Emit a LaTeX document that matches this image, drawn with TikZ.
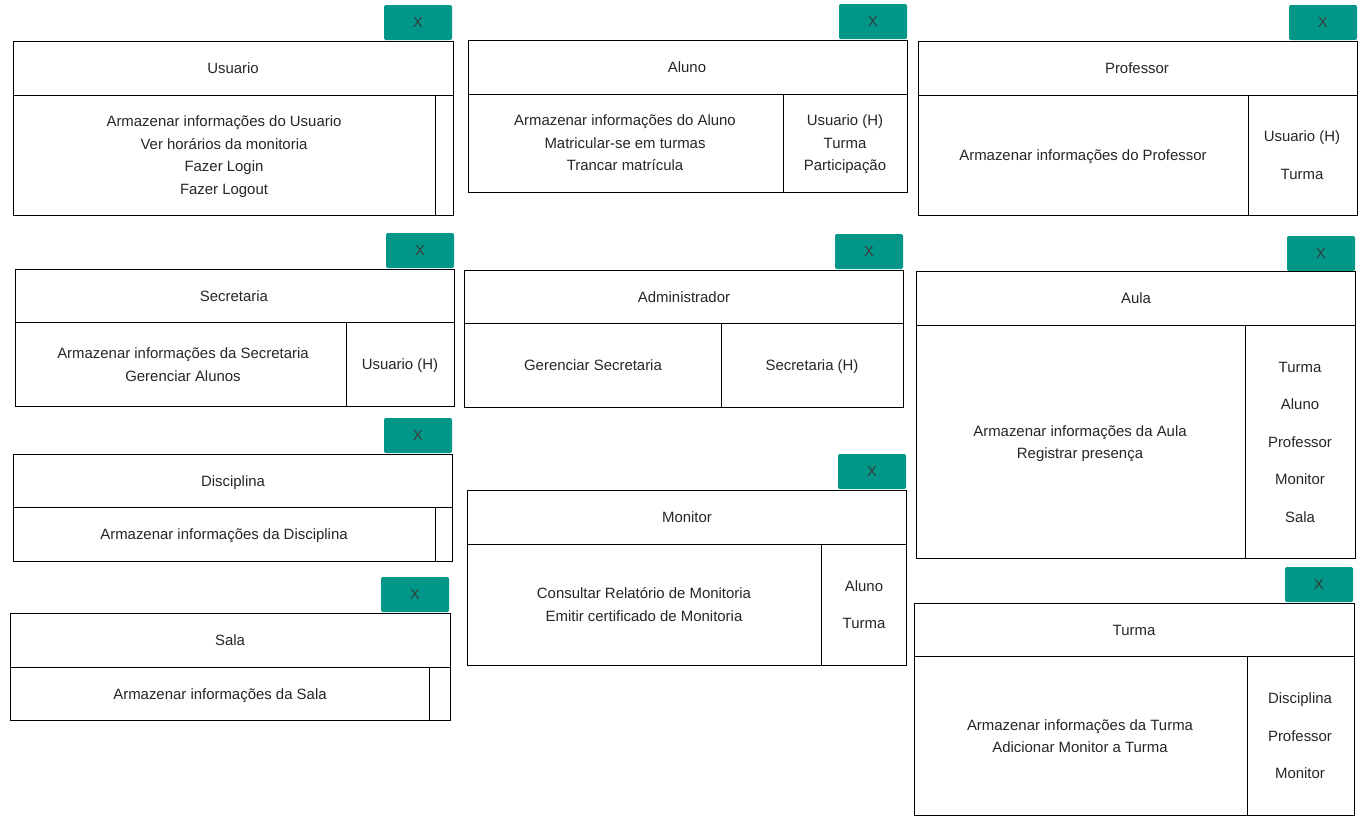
\documentclass[tikz,border=0pt]{standalone}
\usepackage{fontspec}
\setmainfont{Liberation Sans}
\definecolor{btnc}{HTML}{009688}
\definecolor{txtc}{HTML}{262626}
\definecolor{xc}{HTML}{3A3A3A}
\tikzset{
  ln/.style={draw=black, line width=0.7pt},
  btn/.style={fill=btnc, rounded corners=1.5pt},
  txt/.style={text=txtc, font=\fontsize{11.2}{13}\selectfont, inner sep=0pt, anchor=base},
  xt/.style={text=xc, font=\fontsize{10.8}{12}\selectfont, inner sep=0pt, anchor=base},
}
\begin{document}
\begin{tikzpicture}[x=0.75pt,y=-0.75pt]
\useasboundingbox[fill=white] (0,0) rectangle (1370,826);
% ---------- Usuario
\path[btn] (384,5) rectangle (452,40); \node[xt] (ux) at (418,27.5) {X};
\draw[ln] (13,41) rectangle (453,215); \draw[ln] (13,95) -- (453,95); \draw[ln] (435,95) -- (435,215);
\node[txt] (uh) at (233,73) {Usuario};
\node[txt] (u1) at (224,126) {Armazenar informações do Usuario};
\node[txt] (u2) at (224,149) {Ver horários da monitoria};
\node[txt] (u3) at (224,171) {Fazer Login};
\node[txt] (u4) at (224,194) {Fazer Logout};
% ---------- Aluno
\path[btn] (839,4) rectangle (907,39); \node[xt] (ax) at (873,26.5) {X};
\draw[ln] (468,40) rectangle (907,192); \draw[ln] (468,94) -- (907,94); \draw[ln] (783,94) -- (783,192);
\node[txt] (ah) at (687,72) {Aluno};
\node[txt] (a1) at (625,125) {Armazenar informações do Aluno};
\node[txt] (a2) at (625,148) {Matricular-se em turmas};
\node[txt] (a3) at (625,170) {Trancar matrícula};
\node[txt] (a4) at (845,125) {Usuario (H)};
\node[txt] (a5) at (845,148) {Turma};
\node[txt] (a6) at (845,170) {Participação};
% ---------- Professor
\path[btn] (1289,5) rectangle (1357,40); \node[xt] (px) at (1323,27.5) {X};
\draw[ln] (918,41) rectangle (1357,215); \draw[ln] (918,95) -- (1357,95); \draw[ln] (1248,95) -- (1248,215);
\node[txt] (ph) at (1137,73) {Professor};
\node[txt] (p1) at (1083,160) {Armazenar informações do Professor};
\node[txt] (p2) at (1302,141) {Usuario (H)};
\node[txt] (p3) at (1302,179) {Turma};
% ---------- Secretaria
\path[btn] (386,233) rectangle (454,268); \node[xt] (sx) at (420,255.5) {X};
\draw[ln] (15,269) rectangle (454,406); \draw[ln] (15,322) -- (454,322); \draw[ln] (346,322) -- (346,406);
\node[txt] (sh) at (234,301) {Secretaria};
\node[txt] (s1) at (183,358) {Armazenar informações da Secretaria};
\node[txt] (s2) at (183,381) {Gerenciar Alunos};
\node[txt] (s3) at (400,369) {Usuario (H)};
% ---------- Administrador
\path[btn] (835,234) rectangle (903,269); \node[xt] (dx) at (869,256.5) {X};
\draw[ln] (464,270) rectangle (903,407); \draw[ln] (464,323) -- (903,323); \draw[ln] (721,323) -- (721,407);
\node[txt] (dh) at (684,302) {Administrador};
\node[txt] (d1) at (593,370) {Gerenciar Secretaria};
\node[txt] (d2) at (812,370) {Secretaria (H)};
% ---------- Aula
\path[btn] (1287,236) rectangle (1355,271); \node[xt] (lx) at (1321,258.5) {X};
\draw[ln] (916,271) rectangle (1355,558); \draw[ln] (916,325) -- (1355,325); \draw[ln] (1245,325) -- (1245,558);
\node[txt] (lh) at (1136,303) {Aula};
\node[txt] (l1) at (1080,436) {Armazenar informações da Aula};
\node[txt] (l2) at (1080,458) {Registrar presença};
\node[txt] (l3) at (1300,372) {Turma};
\node[txt] (l4) at (1300,409) {Aluno};
\node[txt] (l5) at (1300,447) {Professor};
\node[txt] (l6) at (1300,484) {Monitor};
\node[txt] (l7) at (1300,522) {Sala};
% ---------- Disciplina
\path[btn] (384,418) rectangle (452,453); \node[xt] (ix) at (418,440.5) {X};
\draw[ln] (13,454) rectangle (452,561); \draw[ln] (13,507) -- (452,507); \draw[ln] (435,507) -- (435,561);
\node[txt] (ih) at (233,486) {Disciplina};
\node[txt] (i1) at (224,539) {Armazenar informações da Disciplina};
% ---------- Monitor
\path[btn] (838,454) rectangle (906,489); \node[xt] (mx) at (872,476.5) {X};
\draw[ln] (467,490) rectangle (906,665); \draw[ln] (467,544) -- (906,544); \draw[ln] (821,544) -- (821,665);
\node[txt] (mh) at (687,522) {Monitor};
\node[txt] (m1) at (644,598) {Consultar Relatório de Monitoria};
\node[txt] (m2) at (644,621) {Emitir certificado de Monitoria};
\node[txt] (m3) at (864,591) {Aluno};
\node[txt] (m4) at (864,628) {Turma};
% ---------- Sala
\path[btn] (381,577) rectangle (449,612); \node[xt] (ax2) at (415,599.5) {X};
\draw[ln] (10,613) rectangle (450,720); \draw[ln] (10,667) -- (450,667); \draw[ln] (429,667) -- (429,720);
\node[txt] (ah2) at (230,645) {Sala};
\node[txt] (a21) at (220,699) {Armazenar informações da Sala};
% ---------- Turma
\path[btn] (1285,567) rectangle (1353,602); \node[xt] (tx) at (1319,589.5) {X};
\draw[ln] (914,603) rectangle (1354,815); \draw[ln] (914,656) -- (1354,656); \draw[ln] (1247,656) -- (1247,815);
\node[txt] (th) at (1134,635) {Turma};
\node[txt] (t1) at (1080,730) {Armazenar informações da Turma};
\node[txt] (t2) at (1080,752) {Adicionar Monitor a Turma};
\node[txt] (t3) at (1300,703) {Disciplina};
\node[txt] (t4) at (1300,741) {Professor};
\node[txt] (t5) at (1300,778) {Monitor};
\end{tikzpicture}
\end{document}
